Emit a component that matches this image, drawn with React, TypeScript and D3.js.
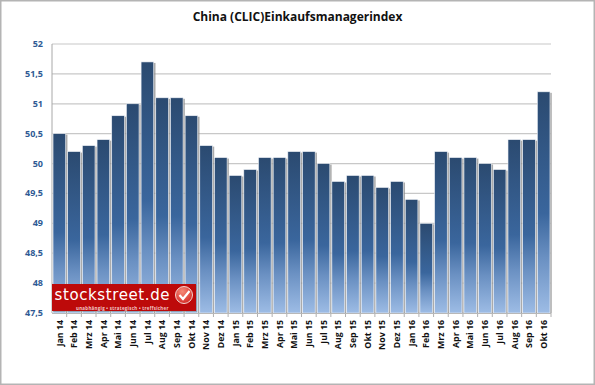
import React from "react";
import * as d3 from "d3";

const months = ["Jan 14","Feb 14","Mrz 14","Apr 14","Mai 14","Jun 14","Jul 14","Aug 14","Sep 14","Okt 14","Nov 14","Dez 14","Jan 15","Feb 15","Mrz 15","Apr 15","Mai 15","Jun 15","Jul 15","Aug 15","Sep 15","Okt 15","Nov 15","Dez 15","Jan 16","Feb 16","Mrz 16","Apr 16","Mai 16","Jun 16","Jul 16","Aug 16","Sep 16","Okt 16"];
const values = [50.5,50.2,50.3,50.4,50.8,51.0,51.7,51.1,51.1,50.8,50.3,50.1,49.8,49.9,50.1,50.1,50.2,50.2,50.0,49.7,49.8,49.8,49.6,49.7,49.4,49.0,50.2,50.1,50.1,50.0,49.9,50.4,50.4,51.2];
const yTicks = [47.5,48,48.5,49,49.5,50,50.5,51,51.5,52];
const title = "China (CLIC)Einkaufsmanagerindex";

export default function App() {
  const x = d3.scaleBand<string>().domain(months).range([52, 551]).paddingInner(0.14).paddingOuter(0.07);
  const y = d3.scaleLinear().domain([47.5, 52]).range([313, 44]);
  const fmt = (v: number) => String(v).replace(".", ",");
  const font = "'Open Sans', 'Noto Sans', sans-serif";
  return (
    <svg width={595} height={385} style={{ position: "absolute", left: 0, top: 0, background: "#fff" }}>
      <defs>
        <linearGradient id="bar" x1="0" y1="0" x2="0" y2="1">
          <stop offset="0" stopColor="#2b4a70" />
          <stop offset="0.55" stopColor="#3a669d" />
          <stop offset="0.75" stopColor="#6a90c2" />
          <stop offset="1" stopColor="#9dbce5" />
        </linearGradient>
        <radialGradient id="seal" cx="0.4" cy="0.3" r="0.8">
          <stop offset="0" stopColor="#f58a78" />
          <stop offset="1" stopColor="#d2201c" />
        </radialGradient>
      </defs>
      <rect x={0.75} y={0.75} width={593.5} height={383.5} fill="#fff" stroke="#b4b4b4" strokeWidth={1.5} />
      <text x={297.5} y={21} textAnchor="middle" fontFamily={font} fontWeight={700} fontSize={12} fill="#111">{title}</text>
      {yTicks.map((t) => (
        <g key={t}>
          <line x1={52} x2={551} y1={y(t)} y2={y(t)} stroke="#c8c8c8" strokeWidth={1.2} />
          <text x={43} y={y(t) + 3} textAnchor="end" fontFamily={font} fontWeight={700} fontSize={9} fill="#2f5a94">{fmt(t)}</text>
        </g>
      ))}
      <line x1={52} x2={52} y1={44} y2={313} stroke="#a8a8a8" />
      {months.map((m, i) => (
        <g key={m}>
          <rect x={(x(m) as number) + 1} y={y(values[i]) + 1} width={x.bandwidth() + 0.8} height={312 - y(values[i])} fill="#8f8f8f" opacity={0.75} />
          <rect x={x(m)} y={y(values[i])} width={x.bandwidth()} height={313 - y(values[i])} fill="url(#bar)" stroke="#eef2f7" strokeWidth={0.6} />
          <line x1={52 + (i + 1) * 499 / 34} x2={52 + (i + 1) * 499 / 34} y1={313} y2={317} stroke="#b0b0b0" />
          <text transform={`translate(${(x(m) as number) + x.bandwidth() / 2 + 3.2},${320}) rotate(-90)`} textAnchor="end" fontFamily={font} fontWeight={700} fontSize={8.8} fill="#111">{m}</text>
        </g>
      ))}
      <line x1={52} x2={551} y1={313.5} y2={313.5} stroke="#b8b8b8" />
      <g>
        <rect x={53} y={285} width={144} height={27} fill="#888" opacity={0.5} />
        <rect x={52} y={284} width={144} height={27} fill="#bd0a0a" />
        <text x={54.5} y={300} fontFamily="'DejaVu Sans', sans-serif" fontSize={15} letterSpacing={0.6} fill="#fff">stockstreet.de</text>
        <text x={76} y={310} fontFamily={font} fontSize={4.4} letterSpacing={0.3} fontWeight={700} fill="#f2c9c9">unabhängig • strategisch • treffsicher</text>
        <circle cx={184} cy={295} r={8.5} fill="url(#seal)" stroke="#f3d5cf" strokeWidth={1} />
        <path d="M179.5 295 L183 299 L189.5 291" fill="none" stroke="#fff" strokeWidth={2.2} />
      </g>
    </svg>
  );
}
